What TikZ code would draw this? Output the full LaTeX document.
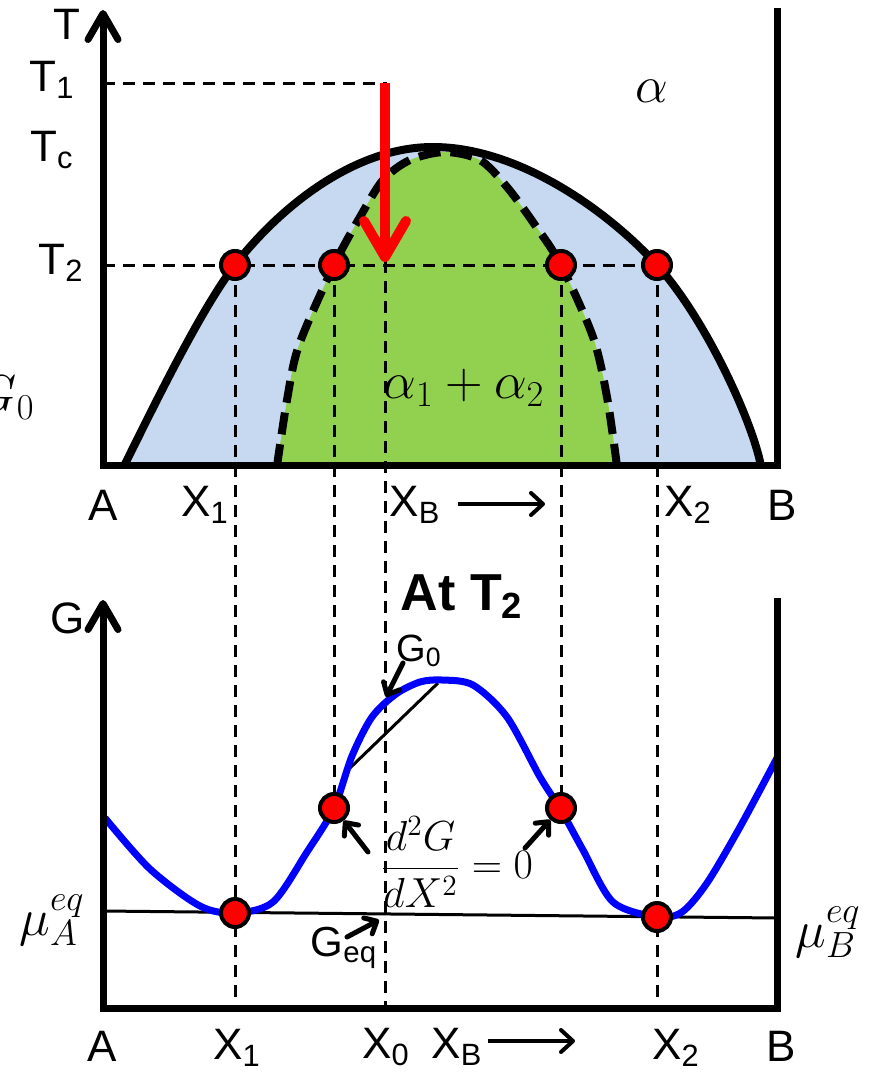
\documentclass[tikz,border=0pt]{standalone}
\usepackage{fix-cm}
\usepackage{fontspec}
\setmainfont{Liberation Sans}
\usetikzlibrary{arrows.meta}
\definecolor{twophase}{RGB}{198,217,240}
\definecolor{spinodal}{RGB}{146,208,80}

\tikzset{
  axis/.style={line width=3.5pt},
  guide/.style={line width=1.5pt,dash pattern=on 6pt off 4pt},
  marker/.style={circle,draw=black,fill=red,line width=2pt,minimum size=14pt,inner sep=0pt},
  lbl/.style={font=\fontsize{22}{26}\selectfont,inner sep=0pt},
  mathlbl/.style={font=\fontsize{26}{30}\selectfont,inner sep=0pt},
  ptr/.style={line width=2.5pt,line cap=round,-{Straight Barb[length=5pt,width=9pt,round]}},
  xarrow/.style={line width=2pt,-{Straight Barb[length=6pt,width=11pt,round]}}
}

\begin{document}
\begin{tikzpicture}[x=0.5pt,y=-0.5pt]

\useasboundingbox (0,0) rectangle (871,1072);

% axes corners
\coordinate (O1) at (103,465);
\coordinate (O2) at (103,1008);

% phase diagram
\def\binodal{(124,466) .. controls (149,416) and (200,310) .. (235,265)
  .. controls (275,213) and (350,147) .. (433,147)
  .. controls (520,147) and (610,213) .. (657,265)
  .. controls (705,318) and (752,420) .. (761,466)}
\fill[twophase] \binodal -- cycle;
\draw[line width=4pt] \binodal;
\fill[spinodal] plot[smooth] coordinates {(277,466) (287,400) (299,345) (334,265) (360,217) (383,180) (410,160) (445,152) (480,160) (507,187) (535,225) (561,265) (593,337) (607,397) (617,466)} -- cycle;
\draw[line width=4pt,dash pattern=on 11pt off 5pt] plot[smooth] coordinates {(277,466) (287,400) (299,345) (334,265) (360,217) (383,180) (410,160) (445,152) (480,160) (507,187) (535,225) (561,265) (593,337) (607,397) (617,466)};

% guide lines
\draw[guide] (103,83) -- (385,83) -- (385,1008);
\draw[guide] (103,265) -- (657,265);
\draw[guide] (235,265) -- (235,1008);
\draw[guide] (334,265) -- (334,808);
\draw[guide] (561,265) -- (561,808);
\draw[guide] (657,265) -- (657,1008);

\draw[axis,{Straight Barb[length=13pt,width=15pt,round]}-] (103,10) -- (O1) -- (777,465) -- (777,8);

\draw[line width=5pt,red,-{Straight Barb[length=18pt,width=21pt,round]}] (385,83) -- (385,262);

\node[marker] (p1) at (235,265) {};
\node[marker] (p2) at (334,265) {};
\node[marker] (p3) at (561,265) {};
\node[marker] (p4) at (657,265) {};

\node[lbl] (Tlab) at (67,24) {T};
\node[lbl] (T1lab) at (52,80) {T\textsubscript{1}};
\node[lbl] (Tclab) at (52,150) {T\textsubscript{c}};
\node[lbl] (T2lab) at (61,263) {T\textsubscript{2}};
\node[mathlbl,anchor=east] (G0cut) at (35,398) {$G_0$};
\node[mathlbl] (alpha) at (652,91) {$\alpha$};
\node[mathlbl] (mix) at (464,388) {$\alpha_1+\alpha_2$};
\node[lbl] (Atop) at (103,505) {A};
\node[lbl] (X1top) at (205,505) {X\textsubscript{1}};
\node[lbl] (XBtop) at (415,505) {X\textsubscript{B}};
\node[lbl] (X2top) at (688,505) {X\textsubscript{2}};
\node[lbl] (Btop) at (782,505) {B};
\draw[xarrow] (458,504) -- (545,504);

% free energy curve
\draw[line width=1.5pt] (103,911) -- (777,918);
\draw[line width=1.5pt] (350,768) -- (438,683);
\draw[blue,line width=3.5pt] plot[smooth] coordinates {(105,818) (150,869) (200,906) (235,913) (273,902) (307,852) (334,808) (352,756) (372,717) (396,694) (420,682) (442,680) (473,685) (507,717) (540,777) (561,810) (583,850) (613,902) (657,917) (682,912) (707,883) (740,827) (777,758)};

\draw[axis,{Straight Barb[length=13pt,width=15pt,round]}-] (103,600) -- (O2) -- (777,1008) -- (777,598);

\node[marker] (q1) at (235,913) {};
\node[marker] (q2) at (334,808) {};
\node[marker] (q3) at (561,808) {};
\node[marker] (q4) at (657,917) {};

\node[lbl] (Glab) at (68,618) {G};
\node[lbl,font=\bfseries\fontsize{26}{30}\selectfont] (title) at (462,597) {At T\textsubscript{2}};
\node[lbl,font=\fontsize{19}{22}\selectfont] (G0lab) at (419,651) {G\textsubscript{0}};
\node[inner sep=0pt,font=\fontsize{21}{24}\selectfont] (d2G) at (457,862) {$\displaystyle\frac{d^2G}{dX^2}=0$};
\node[lbl,font=\fontsize{21}{24}\selectfont] (Geqlab) at (344,948) {G\textsubscript{eq}};
\node[mathlbl] (muA) at (52,920) {$\mu_A^{eq}$};
\node[mathlbl] (muB) at (828,932) {$\mu_B^{eq}$};

\coordinate (g0a) at (403,663);
\coordinate (g0b) at (386,697);
\coordinate (dl) at (368,852);
\coordinate (dr) at (525,848);
\coordinate (gqa) at (347,937);
\coordinate (gqb) at (379,920);
\draw[ptr] (g0a) -- (g0b);
\draw[ptr] (dl) -- (q2);
\draw[ptr] (dr) -- (q3);
\draw[ptr] (gqa) -- (gqb);

\node[lbl] (Abot) at (102,1046) {A};
\node[lbl] (X1bot) at (237,1048) {X\textsubscript{1}};
\node[lbl] (X0bot) at (386,1047) {X\textsubscript{0}};
\node[lbl] (XBbot) at (457,1047) {X\textsubscript{B}};
\node[lbl] (X2bot) at (676,1048) {X\textsubscript{2}};
\node[lbl] (Bbot) at (781,1046) {B};
\draw[xarrow] (488,1041) -- (575,1041);

\end{tikzpicture}
\end{document}
